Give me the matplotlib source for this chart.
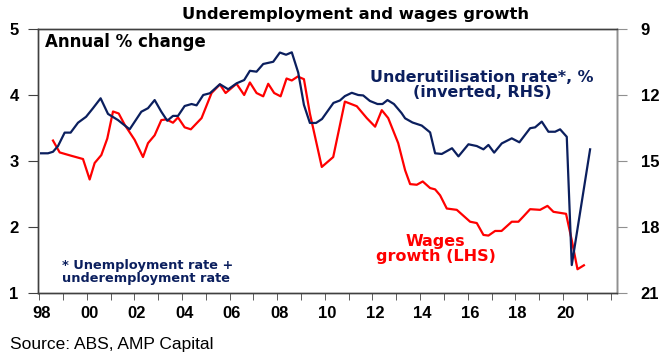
import numpy as np
import matplotlib
matplotlib.use("Agg")
import matplotlib.pyplot as plt

plt.rcParams['font.family'] = ['DejaVu Sans']

# underutilisation rate (unemployment + underemployment), %, plotted inverted on RHS
util_year = [1998.08, 1998.37, 1998.58, 1998.79, 1999.07, 1999.32, 1999.63, 1999.97,
             2000.26, 2000.58, 2000.89, 2001.31, 2001.80, 2002.29, 2002.57, 2002.85,
             2003.13, 2003.38, 2003.62, 2003.83, 2004.11, 2004.40, 2004.61, 2004.89,
             2005.17, 2005.59, 2005.94, 2006.29, 2006.61, 2006.85, 2007.13, 2007.41,
             2007.83, 2008.11, 2008.37, 2008.61, 2008.88, 2009.12, 2009.37, 2009.63,
             2009.88, 2010.36, 2010.63, 2010.84, 2011.13, 2011.40, 2011.61, 2011.89,
             2012.21, 2012.42, 2012.63, 2012.90, 2013.22, 2013.37, 2013.68, 2014.07,
             2014.42, 2014.63, 2014.91, 2015.34, 2015.61, 2016.03, 2016.38, 2016.66,
             2016.87, 2017.11, 2017.43, 2017.85, 2018.17, 2018.62, 2018.83, 2019.11,
             2019.39, 2019.67, 2019.88, 2020.16, 2020.37, 2021.14]
util_rate = [14.65, 14.65, 14.58, 14.32, 13.71, 13.71, 13.26, 12.99,
             12.60, 12.15, 12.86, 13.14, 13.56, 12.76, 12.60, 12.23,
             12.76, 13.17, 12.95, 12.95, 12.50, 12.41, 12.47, 12.00,
             11.92, 11.51, 11.74, 11.47, 11.32, 10.90, 10.94, 10.59,
             10.49, 10.07, 10.17, 10.06, 10.98, 12.45, 13.27, 13.27,
             13.09, 12.36, 12.25, 12.05, 11.90, 12.00, 12.02, 12.27,
             12.41, 12.41, 12.23, 12.41, 12.82, 13.06, 13.25, 13.39,
             13.70, 14.65, 14.68, 14.42, 14.79, 14.24, 14.32, 14.47,
             14.27, 14.62, 14.20, 13.97, 14.15, 13.51, 13.47, 13.21,
             13.67, 13.67, 13.56, 13.90, 19.73, 14.47]

# wages growth, annual % change, LHS
wage_year = [1998.58, 1998.86, 1999.34, 1999.84, 2000.12, 2000.33, 2000.61, 2000.86,
             2001.10, 2001.34, 2001.59, 2002.01, 2002.36, 2002.57, 2002.85, 2003.13,
             2003.34, 2003.62, 2003.83, 2004.11, 2004.37, 2004.82, 2005.24, 2005.59,
             2005.83, 2006.29, 2006.61, 2006.85, 2007.13, 2007.41, 2007.62, 2007.87,
             2008.14, 2008.39, 2008.61, 2008.86, 2009.12, 2009.37, 2009.87, 2010.35,
             2010.84, 2011.34, 2011.76, 2012.11, 2012.39, 2012.66, 2013.08, 2013.37,
             2013.58, 2013.86, 2014.11, 2014.42, 2014.63, 2014.84, 2015.12, 2015.54,
             2015.82, 2016.10, 2016.38, 2016.66, 2016.87, 2017.15, 2017.42, 2017.85,
             2018.13, 2018.34, 2018.62, 2019.04, 2019.35, 2019.60, 2020.13, 2020.37,
             2020.61, 2020.88]
wage_growth = [3.31, 3.13, 3.08, 3.03, 2.72, 2.97, 3.09, 3.34,
               3.75, 3.72, 3.55, 3.32, 3.06, 3.27, 3.39, 3.62,
               3.63, 3.58, 3.66, 3.51, 3.48, 3.65, 4.03, 4.16,
               4.03, 4.17, 4.00, 4.19, 4.03, 3.98, 4.17, 4.03,
               3.98, 4.25, 4.22, 4.28, 4.24, 3.72, 2.91, 3.06,
               3.90, 3.83, 3.65, 3.52, 3.77, 3.65, 3.27, 2.86,
               2.65, 2.64, 2.69, 2.59, 2.57, 2.48, 2.28, 2.26,
               2.17, 2.08, 2.06, 1.88, 1.87, 1.94, 1.94, 2.08,
               2.08, 2.16, 2.27, 2.26, 2.32, 2.23, 2.20, 1.80,
               1.36, 1.42]

lhs_ticks = [1, 2, 3, 4, 5]
rhs_ticks = [9, 12, 15, 18, 21]
year_labels = ['98', '00', '02', '04', '06', '08', '10', '12', '14', '16', '18', '20']

RED = '#ff0000'
NAVY = '#0b1f5e'
AXC = '#404040'
TICKFONT = dict(family='Liberation Sans', fontweight='bold', fontsize=12)

fig = plt.figure(figsize=(6.64, 3.62), dpi=100)
ax = fig.add_axes([38/664, 1-293/362, 579/664, 264/362])
ax2 = ax.twinx()

ax.plot(wage_year, wage_growth, color=RED, lw=1.6)
ax2.plot(util_year, util_rate, color=NAVY, lw=1.6)

ax.set_xlim(1997.95, 2022.27)
ax.set_ylim(1, 5)
ax2.set_ylim(21, 9)

ax.set_yticks(lhs_ticks)
ax.set_yticklabels([str(t) for t in lhs_ticks], **TICKFONT)
ax2.set_yticks(rhs_ticks)
ax2.set_yticklabels([str(t) for t in rhs_ticks], **TICKFONT)

lab_pos = [1998 + 2*i + 0.1 for i in range(len(year_labels))]
ax.set_xticks(lab_pos)
ax.set_xticklabels(year_labels, **TICKFONT)
ax.tick_params(axis='x', which='major', length=0, pad=9)
ax.set_xticks(np.arange(1998, 2023), minor=True)
ax.tick_params(axis='x', which='minor', length=5, direction='out', color=AXC)
ax.tick_params(axis='y', length=7, direction='out', color=AXC, pad=7)
ax2.tick_params(axis='y', length=7, direction='out', color='#909090', pad=10)

for a in (ax, ax2):
    for s in a.spines.values():
        s.set_color(AXC)
        s.set_linewidth(1.0)
ax2.spines['right'].set_color('#909090')

fig.text(355/664, 1-15/362, 'Underemployment and wages growth', ha='center', va='center',
         fontsize=11.8, fontweight='bold')
ax.text(0.012, 0.951, 'Annual % change', transform=ax.transAxes, ha='left', va='center',
        fontsize=12, fontweight='bold')
ax.text(0.767, 0.786, 'Underutilisation rate*, %\n(inverted, RHS)', transform=ax.transAxes,
        ha='center', va='center', fontsize=11.4, fontweight='bold', color=NAVY, linespacing=1.0)
ax.text(0.687, 0.167, 'Wages\ngrowth (LHS)', transform=ax.transAxes,
        ha='center', va='center', fontsize=11.5, fontweight='bold', color=RED, linespacing=1.0)
ax.text(0.0415, 0.078, '* Unemployment rate +\nunderemployment rate', transform=ax.transAxes,
        ha='left', va='center', fontsize=9.3, fontweight='bold', color=NAVY, linespacing=1.0)
fig.text(10/664, 1-345/362, 'Source: ABS, AMP Capital', ha='left', va='center',
         fontsize=12.5, family='Liberation Sans')

fig.savefig('out.png', dpi=100)
